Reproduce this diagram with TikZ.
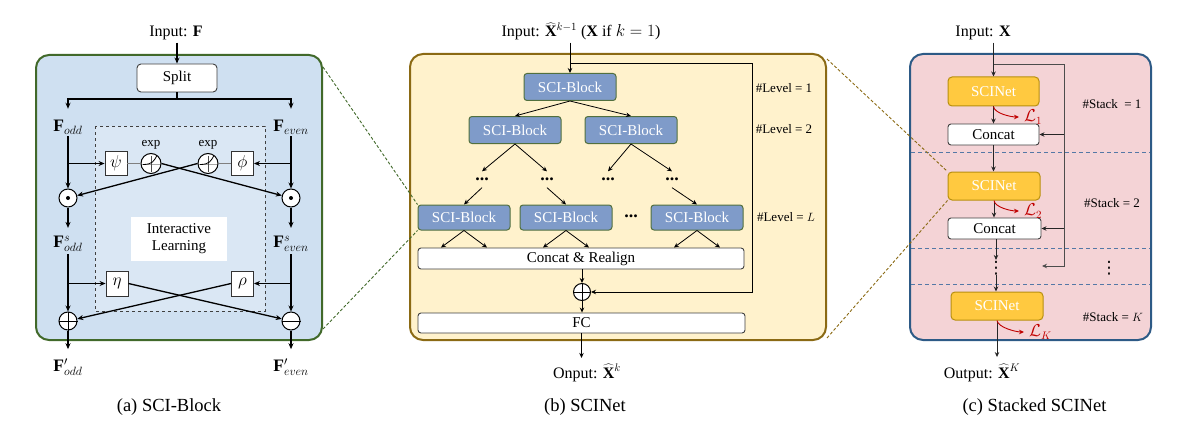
\documentclass[tikz,border=0pt]{standalone}
\usepackage{fontspec}
\setmainfont{Liberation Serif}
\newfontfamily\djvfont{DejaVu Sans}
\usetikzlibrary{arrows.meta,calc}
\definecolor{aFill}{HTML}{CFE0F1}
\definecolor{aInner}{HTML}{DAE7F4}
\definecolor{aBorder}{HTML}{41692A}
\definecolor{bFill}{HTML}{FFF2CC}
\definecolor{bBorder}{HTML}{8B6A14}
\definecolor{cFill}{HTML}{F4D3D6}
\definecolor{cBorder}{HTML}{2D5A86}
\definecolor{sciFill}{HTML}{7F9BC9}
\definecolor{sciBorder}{HTML}{52703E}
\definecolor{netFill}{HTML}{FFC940}
\definecolor{netBorder}{HTML}{B8900F}
\definecolor{redL}{HTML}{C00000}
\definecolor{sepBlue}{HTML}{5478A6}
\begin{document}
\begin{tikzpicture}[x=1pt,y=-1pt]
\tikzset{
  lbl/.style={font=\fontsize{16}{19}\selectfont, inner sep=2pt},
  mlbl/.style={font=\fontsize{17.5}{20}\selectfont, inner sep=2pt},
  captxt/.style={font=\fontsize{18.5}{22}\selectfont},
  smalltxt/.style={font=\fontsize{13}{15}\selectfont, inner sep=1pt},
  dotstxt/.style={font=\bfseries\fontsize{18}{20}\selectfont, inner sep=0pt},
  vdotstxt/.style={font=\djvfont\fontsize{17}{17}\selectfont, inner sep=0pt},
  arra/.style={-{Stealth[length=6pt,width=5pt]}, line width=1.3pt},
  arrb/.style={-{Stealth[length=5pt,width=4.5pt]}, line width=0.8pt},
  arrc/.style={-{Stealth[length=5pt,width=4.5pt]}, line width=0.9pt, draw=black!85},
  whitebox/.style={draw=black!75, fill=white, rounded corners=3pt, line width=0.9pt, font=\fontsize{15}{18}\selectfont, inner sep=0pt},
  sqbox/.style={draw=black!80, fill=white, line width=0.9pt, minimum width=22pt, minimum height=24pt, inner sep=0pt, font=\fontsize{16}{18}\selectfont},
  opnode/.style={circle, draw=black, fill=white, line width=1pt, minimum size=18pt, inner sep=0pt},
  expnode/.style={circle, draw=black, fill=white, line width=1pt, minimum size=20pt, inner sep=0pt},
  sciblock/.style={draw=sciBorder, fill=sciFill, rounded corners=3pt, line width=1pt, text=white, minimum width=92pt, minimum height=27pt, inner sep=0pt, font=\fontsize{15}{18}\selectfont},
  scinet/.style={draw=netBorder, fill=netFill, rounded corners=4pt, line width=1pt, text=white, minimum width=92pt, minimum height=28pt, inner sep=0pt, font=\fontsize{15}{18}\selectfont},
  redlbl/.style={text=redL, font=\fontsize{16}{18}\selectfont, inner sep=1pt, anchor=west},
  zoomA/.style={draw=aBorder, line width=0.9pt, dash pattern=on 3pt off 2pt},
  zoomB/.style={draw=bBorder, line width=0.9pt, dash pattern=on 3pt off 2pt},
  sepline/.style={draw=sepBlue, line width=0.9pt, dash pattern=on 4pt off 3pt},
  redarr/.style={-{Stealth[length=5pt,width=4.5pt]}, line width=0.9pt, draw=redL},
}
\useasboundingbox (0,0) rectangle (1187,436);

% ---------------- panels ----------------
\node[draw=aBorder, fill=aFill, line width=2pt, rounded corners=13pt, minimum width=286pt, minimum height=285pt, inner sep=0pt] (pa) at (179,197.5) {};
\node[draw=bBorder, fill=bFill, line width=2pt, rounded corners=13pt, minimum width=416pt, minimum height=286pt, inner sep=0pt] (pb) at (618,197) {};
\node[draw=cBorder, fill=cFill, line width=2pt, rounded corners=13pt, minimum width=241pt, minimum height=286pt, inner sep=0pt] (pc) at (1030.5,197) {};

% ---------------- panel (a) ----------------
\draw[black!75, line width=0.9pt, dashed, fill=aInner] (95,126) rectangle (265,311);
\node[lbl, anchor=base] (inA) at (176,37) {Input: $\mathbf{F}$};
\node[whitebox, minimum width=80pt, minimum height=28pt, rounded corners=4pt] (split) at (177,78) {Split};
\coordinate (ya) at (177,99);
\node[mlbl] (fodd) at (68,127) {$\mathbf{F}_{odd}$};
\node[mlbl] (feven) at (291,127) {$\mathbf{F}_{even}$};
\node[sqbox] (psi) at (116,163.5) {$\psi$};
\node[sqbox] (phi) at (242.5,163.5) {$\phi$};
\node[expnode] (e1) at (151,163.5) {};
\node[expnode] (e2) at (208,163.5) {};
\node[smalltxt] (x1) at (151,145) {exp};
\node[smalltxt] (x2) at (208,145) {exp};
\foreach \e in {e1,e2}{
  \draw[gray!70, line width=0.6pt] ($(\e.center)+(-9,1)$) -- ($(\e.center)+(9,1)$);
  \draw[black!70, line width=0.5pt] ($(\e.center)+(0,-8)$) -- ($(\e.center)+(0,8)$);
  \draw[line width=0.8pt] ($(\e.center)+(-8,1)$) .. controls ($(\e.center)+(2,1)$) and ($(\e.center)+(3,-3)$) .. ($(\e.center)+(6,-8)$);
}
\node[opnode] (m1) at (68,198) {};
\node[opnode] (m2) at (291,198) {};
\fill (m1.center) circle (2pt);
\fill (m2.center) circle (2pt);
\node[mlbl] (fso) at (68,244) {$\mathbf{F}^{s}_{odd}$};
\node[mlbl] (fse) at (291,244) {$\mathbf{F}^{s}_{even}$};
\node[fill=white, minimum width=96pt, minimum height=44pt, align=center, font=\fontsize{15}{17}\selectfont, inner sep=0pt] (il) at (179,239) {Interactive\\Learning};
\node[sqbox, minimum height=25pt] (eta) at (117,283.5) {$\eta$};
\node[sqbox, minimum height=25pt] (rho) at (242.5,283.5) {$\rho$};
\node[opnode] (p1) at (68,321) {};
\node[opnode] (p2) at (291,321) {};
\draw[line width=1pt] (p1.north) -- (p1.south) (p1.west) -- (p1.east);
\draw[line width=1pt] (p2.west) -- (p2.east);
\node[mlbl] (fpo) at (68,367) {$\mathbf{F}'_{odd}$};
\node[mlbl] (fpe) at (291,367) {$\mathbf{F}'_{even}$};
\node[captxt] (capa) at (169,407) {(a) SCI-Block};

\draw[arra] (split.north |- inA.south) -- (split.north);
\draw[arra] (split.south) -- (split.south |- ya) -| ($(fodd.north)+(0,-9)$);
\draw[arra] (split.south |- ya) -| ($(feven.north)+(0,-9)$);
\draw[arra] (fodd.south) -- (m1.north);
\draw[arra] (feven.south) -- (m2.north);
\draw[arra] (fodd.south |- psi.west) -- (psi.west);
\draw[arra] (feven.south |- phi.east) -- (phi.east);
\draw[gray, line width=0.8pt] (psi.east) -- (e1.west);
\draw[gray, line width=0.8pt] (phi.west) -- (e2.east);
\draw[arra] (e1.east) -- (m2);
\draw[arra] (e2.west) -- (m1);
\draw[arra] (m1.south) -- ($(fso.north)+(0,-6)$);
\draw[arra] (m2.south) -- ($(fse.north)+(0,-6)$);
\draw[arra] (fso.south) -- (p1.north);
\draw[arra] (fse.south) -- (p2.north);
\draw[arra] (fso.south |- eta.west) -- (eta.west);
\draw[arra] (fse.south |- rho.east) -- (rho.east);
\draw[arra] (eta.east) -- (p2);
\draw[arra] (rho.west) -- (p1);
\draw[arra] (p1.south) -- ($(fpo.north)+(0,-7)$);
\draw[arra] (p2.south) -- ($(fpe.north)+(0,-7)$);

% ---------------- panel (b) ----------------
\node[lbl, anchor=base] (inB) at (581,37) {Input: $\widehat{\mathbf{X}}^{k-1}$ ($\mathbf{X}$ if $k=1$)};
\node[sciblock] (b1) at (570,87) {SCI-Block};
\node[sciblock] (b21) at (515,130) {SCI-Block};
\node[sciblock] (b22) at (631,130) {SCI-Block};
\node[dotstxt] (d1) at (482,179) {...};
\node[dotstxt] (d2) at (547,179) {...};
\node[dotstxt] (d3) at (608,179) {...};
\node[dotstxt] (d4) at (672,179) {...};
\node[sciblock, minimum height=25pt] (bl1) at (464,217.5) {SCI-Block};
\node[sciblock, minimum height=25pt] (bl2) at (566,217.5) {SCI-Block};
\node[sciblock, minimum height=25pt] (bl3) at (697,217.5) {SCI-Block};
\node[dotstxt] (dL) at (631,216) {...};
\node[whitebox, minimum width=326pt, minimum height=21pt] (cr) at (581,258.5) {Concat \& Realign};
\node[opnode, minimum size=17pt] (plusb) at (582,292) {};
\draw[line width=0.9pt] (plusb.north) -- (plusb.south) (plusb.west) -- (plusb.east);
\node[whitebox, minimum width=327pt, minimum height=20pt] (fc) at (581.5,323) {FC};
\node[lbl, anchor=base] (outB) at (587,378) {Onput: $\widehat{\mathbf{X}}^{k}$};
\node[captxt] (capb) at (585,407) {(b) SCINet};
\node[smalltxt] (lv1) at (784,88) {\#Level = 1};
\node[smalltxt] (lv2) at (784,129) {\#Level = 2};
\node[smalltxt] (lvL) at (786,217) {\#Level = $L$};
\coordinate (fbk) at (752,64);

\draw[arrb] (b1.north |- inB.south) -- (b1.north);
\draw[arrb, line width=1pt] (b1.north |- fbk) -- (fbk) |- (plusb.east);
\draw[arrb] (b1.south) -- (b21.north);
\draw[arrb] (b1.south) -- (b22.north);
\draw[arrb] (b21.south) -- ($(d1.north)+(0,-6)$);
\draw[arrb] (b21.south) -- ($(d2.north)+(0,-6)$);
\draw[arrb] (b22.south) -- ($(d3.north)+(0,-6)$);
\draw[arrb] (b22.south) -- ($(d4.north)+(0,-6)$);
\draw[arrb] ($(d1.south)+(0,7)$) -- (bl1.north);
\draw[arrb] ($(d2.south)+(0,7)$) -- (bl2.north);
\draw[arrb] ($(d4.south)+(0,7)$) -- (bl3.north);
\foreach \b in {bl1,bl2,bl3}{
  \draw[arrb] (\b.south) -- ($(\b.south |- cr.north)+(-23,0)$);
  \draw[arrb] (\b.south) -- ($(\b.south |- cr.north)+(23,0)$);
}
\draw[arrb] (cr.south -| plusb.north) -- (plusb.north);
\draw[arrb] (plusb.south) -- (plusb.south |- fc.north);
\draw[arrb] (fc.south) -- ($(fc.south |- outB.north)+(0,-4)$);

% ---------------- panel (c) ----------------
\coordinate (sep1) at (0,152);
\coordinate (sep2) at (0,248);
\coordinate (sep3) at (0,284);
\draw[sepline] ($(pc.west |- sep1)+(2,0)$) -- ($(pc.east |- sep1)+(-2,0)$);
\draw[sepline] ($(pc.west |- sep2)+(2,0)$) -- ($(pc.east |- sep2)+(-2,0)$);
\draw[sepline] ($(pc.west |- sep3)+(2,0)$) -- ($(pc.east |- sep3)+(-2,0)$);
\node[lbl, anchor=base] (inC) at (983,37) {Input: $\mathbf{X}$};
\node[scinet, minimum width=91pt, minimum height=29pt] (s1) at (993.5,91.5) {SCINet};
\node[whitebox, minimum width=91pt, minimum height=21pt] (c1) at (993.5,134.5) {Concat};
\node[scinet] (s2) at (994,186) {SCINet};
\node[whitebox, minimum width=93pt, minimum height=21pt] (c2) at (994.5,228.5) {Concat};
\node[vdotstxt] (vd) at (996,268) {⋮};
\node[vdotstxt] (vd2) at (1109,268) {⋮};
\node[scinet] (s3) at (997,306) {SCINet};
\node[redlbl] (L1) at (1023,117) {$\mathcal{L}_1$};
\node[redlbl] (L2) at (1023,211) {$\mathcal{L}_2$};
\node[redlbl] (L3) at (1028,332) {$\mathcal{L}_K$};
\node[smalltxt] (st1) at (1112,104) {\#Stack~~= 1};
\node[smalltxt] (st2) at (1112,203) {\#Stack = 2};
\node[smalltxt] (st3) at (1113,317) {\#Stack = $K$};
\node[lbl, anchor=base] (outC) at (982,378) {Output: $\widehat{\mathbf{X}}^{K}$};
\node[captxt] (capc) at (1034.5,407) {(c) Stacked SCINet};
\coordinate (fbc) at (1064,64);
\coordinate (fbce) at (1042,266);

\draw[arrc] (s1.north |- inC.south) -- (s1.north);
\draw[arrc, draw=black!70] (s1.north |- fbc) -- (fbc) |- (fbce);
\draw[arrc] (fbc |- c1.east) -- (c1.east);
\draw[arrc] (fbc |- c2.east) -- (c2.east);
\draw[arrc] (s1.south) -- (c1.north);
\draw[arrc] (c1.south) -- (c1.south |- s2.north);
\draw[arrc] (s2.south) -- (s2.south |- c2.north);
\draw[arrc] (c2.south -| vd.north) -- ($(vd.north)+(0,-1)$);
\draw[arrc] (vd.south) -- (vd.south |- s3.north);
\draw[arrc] (s3.south) -- ($(s3.south |- outC.north)+(0,-5)$);
\draw[redarr] (s1.south) .. controls +(1,7) and +(-8,0) .. ($(L1.west)+(-4,0)$);
\draw[redarr] (s2.south) .. controls +(1,7) and +(-8,0) .. ($(L2.west)+(-4,0)$);
\draw[redarr] (s3.south) .. controls +(1,7) and +(-8,0) .. ($(L3.west)+(-4,0)$);

% ---------------- zoom lines ----------------
\draw[zoomA] ($(pa.north east)+(0,13)$) -- (bl1.north west);
\draw[zoomA] ($(pa.south east)+(0,-12)$) -- (bl1.south west);
\draw[zoomB] ($(pb.north east)+(0,6)$) -- (s2.north west);
\draw[zoomB] ($(pb.south east)+(0,-3)$) -- (s2.south west);
\end{tikzpicture}
\end{document}
